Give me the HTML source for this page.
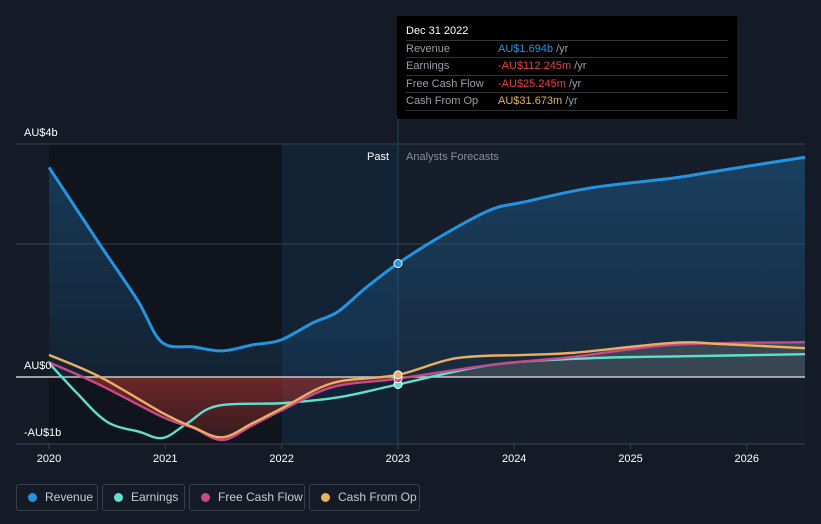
<!DOCTYPE html>
<html><head><meta charset="utf-8"><style>
body{margin:0;background:#151b26;width:821px;height:524px;overflow:hidden;font-family:"Liberation Sans",sans-serif}
#c{position:absolute;left:0;top:0}
.lg{position:absolute;top:484px;border:1px solid #3a404b;border-radius:3px;color:#c8cbd0;font-size:12px;line-height:25px;box-sizing:border-box;height:27px}
.lg i{display:inline-block;width:9px;height:9px;border-radius:50%;margin:0 8px 0 11px;vertical-align:-1px}
.tt{position:absolute;left:397px;top:16px;width:340px;height:103px;background:#000;font-size:11px;color:#9a9ea6}
.tt div{position:absolute;left:9px;right:9px;border-bottom:1px solid #333;box-sizing:border-box}
.tt span{position:absolute;left:92px}
</style></head><body>
<svg id="c" width="821" height="524"></svg>
<div class="tt">
<div style="top:7px;height:18px;line-height:17px;color:#fff">Dec 31 2022</div>
<div style="top:25px;height:17px;line-height:16px">Revenue<span style="color:#2394df">AU$1.694b <b style="font-weight:normal;color:#9a9ea6">/yr</b></span></div>
<div style="top:42px;height:18px;line-height:17px">Earnings<span style="color:#e8413f">-AU$112.245m <b style="font-weight:normal;color:#9a9ea6">/yr</b></span></div>
<div style="top:60px;height:17px;line-height:16px">Free Cash Flow<span style="color:#e8413f">-AU$25.245m <b style="font-weight:normal;color:#9a9ea6">/yr</b></span></div>
<div style="top:77px;height:18px;line-height:17px">Cash From Op<span style="color:#e9b061">AU$31.673m <b style="font-weight:normal;color:#9a9ea6">/yr</b></span></div>
</div>
<div class="lg" style="left:16px;width:82px"><i style="background:#2394df"></i>Revenue</div>
<div class="lg" style="left:102px;width:83px"><i style="background:#5fe0cc"></i>Earnings</div>
<div class="lg" style="left:189px;width:116px"><i style="background:#c8488a"></i>Free Cash Flow</div>
<div class="lg" style="left:309px;width:111px"><i style="background:#e9b061"></i>Cash From Op</div>
<script>
const years=[2020,2021,2022,2023,2024,2025,2026];
const revT=[2020,2020.44,2020.76,2020.97,2021.24,2021.49,2021.75,2021.99,2022.27,2022.48,2022.73,2023,2023.36,2023.79,2024.08,2024.65,2025.37,2025.8,2026.5];
const revV=[3.13,1.97,1.15,0.52,0.45,0.39,0.48,0.55,0.81,0.97,1.34,1.694,2.09,2.49,2.61,2.82,2.97,3.09,3.28];
const earnT=[2020,2020.24,2020.5,2020.78,2020.98,2021.19,2021.45,2022.01,2022.5,2023,2023.8,2024.65,2025.5,2026.5];
const earnV=[0.21,-0.24,-0.67,-0.82,-0.91,-0.69,-0.43,-0.39,-0.30,-0.112,0.18,0.28,0.31,0.34];
const fcfT=[2020,2020.44,2020.98,2021.24,2021.49,2021.75,2022.01,2022.44,2023,2023.8,2024.5,2025.37,2026.5];
const fcfV=[0.22,-0.12,-0.6,-0.76,-0.94,-0.72,-0.49,-0.15,-0.025,0.18,0.30,0.48,0.52];
const cfoT=[2020,2020.44,2020.98,2021.24,2021.49,2021.75,2022.01,2022.44,2023,2023.5,2024.08,2024.5,2025.37,2025.8,2026.5];
const cfoV=[0.33,0.0,-0.54,-0.75,-0.9,-0.69,-0.46,-0.09,0.032,0.28,0.33,0.36,0.51,0.49,0.43];
const X=t=>49+(t-2020)*116.3, Y=v=>377-v*67;
const ns="http://www.w3.org/2000/svg",svg=document.getElementById('c');
function el(tag,a,name){const e=document.createElementNS(ns,tag);for(const k in a)e.setAttribute(k,a[k]);


svg.appendChild(e);return e;}
function path(T,V){const p=T.map((t,i)=>[X(t),Y(V[i])]);let d=`M${p[0][0]},${p[0][1]}`;
for(let i=0;i<p.length-1;i++){const p0=p[Math.max(i-1,0)],p1=p[i],p2=p[i+1],p3=p[Math.min(i+2,p.length-1)];
d+=`C${p1[0]+(p2[0]-p0[0])/6},${p1[1]+(p2[1]-p0[1])/6} ${p2[0]-(p3[0]-p1[0])/6},${p2[1]-(p3[1]-p1[1])/6} ${p2[0]},${p2[1]}`;}return d;}
const defs=el('defs',{},'defs');
defs.innerHTML='<linearGradient id="gb" x1="0" y1="0" x2="0" y2="1"><stop offset="0" stop-color="#1d5a8a" stop-opacity=".55"/><stop offset="1" stop-color="#1d5a8a" stop-opacity=".2"/></linearGradient><linearGradient id="gr" x1="0" y1="0" x2="0" y2="1"><stop offset="0" stop-color="#a3302f" stop-opacity=".85"/><stop offset="1" stop-color="#a3302f" stop-opacity=".25"/></linearGradient><clipPath id="neg"><rect x="0" y="377" width="398" height="100"/></clipPath><clipPath id="pos"><rect x="398" y="300" width="410" height="77"/></clipPath>';
el('rect',{x:49,y:144,width:233,height:300,fill:'#10141c'},'past-background');
el('rect',{x:282,y:144,width:116,height:300,fill:'#13253a',opacity:.85},'highlight-band');
el('rect',{x:398,y:144,width:407,height:300,fill:'#161e2b'},'forecast-background');
[144,244].forEach(y=>el('line',{x1:16,x2:805,y1:y,y2:y,stroke:'#3a4250','stroke-width':1},'gridline'));
el('line',{x1:16,x2:805,y1:444,y2:444,stroke:'#3a4250'},'x-axis');
el('line',{x1:398,x2:398,y1:110,y2:444,stroke:'#1f4466'},'divider');
const rp=path(revT,revV);
el('path',{d:rp+`L${X(2026.5)},377L${X(2020)},377Z`,fill:'url(#gb)'},'revenue-area');
el('path',{d:path(fcfT,fcfV)+`L${X(2026.5)},377L${X(2020)},377Z`,fill:'url(#gr)','clip-path':'url(#neg)'},'negative-area');
el('path',{d:path(fcfT,fcfV)+`L${X(2026.5)},377L${X(2020)},377Z`,fill:'#5a5f66',opacity:.5,'clip-path':'url(#pos)'},'forecast-area');
el('line',{x1:16,x2:805,y1:377,y2:377,stroke:'#c9c9c9','stroke-width':1.5},'zero-line');
el('path',{d:path(earnT,earnV),fill:'none',stroke:'#5fe0cc','stroke-width':2.4},'earnings-line');
el('path',{d:path(fcfT,fcfV),fill:'none',stroke:'#c8488a','stroke-width':2.4},'fcf-line');
el('path',{d:path(cfoT,cfoV),fill:'none',stroke:'#e9b061','stroke-width':2.4},'cfo-line');
el('path',{d:rp,fill:'none',stroke:'#2394df','stroke-width':3},'revenue-line');
[[earnV[9],'#5fe0cc'],[fcfV[8],'#c8488a'],[cfoV[8],'#e9b061'],[revV[11],'#2394df']].forEach(([v,c])=>el('circle',{cx:398,cy:Y(v),r:4,fill:c,stroke:'#fff','stroke-width':1},'marker-2023'));
years.forEach(y=>{el('line',{x1:X(y),x2:X(y),y1:444,y2:449,stroke:'#3a4250'},'x-tick');
const t=el('text',{x:X(y),y:462,fill:'#fff','font-size':11,'text-anchor':'middle'},'x-tick-label');t.textContent=y;});
[['AU$4b',136],['AU$0',369],['-AU$1b',436]].forEach(([s,y])=>{const t=el('text',{x:24,y:y,fill:'#fff','font-size':11},'y-label');t.textContent=s;});
let t=el('text',{x:389,y:160,fill:'#fff','font-size':11,'text-anchor':'end'},'past-label');t.textContent='Past';
t=el('text',{x:406,y:160,fill:'#8a8f98','font-size':11},'forecast-label');t.textContent='Analysts Forecasts';
</script></body></html>
